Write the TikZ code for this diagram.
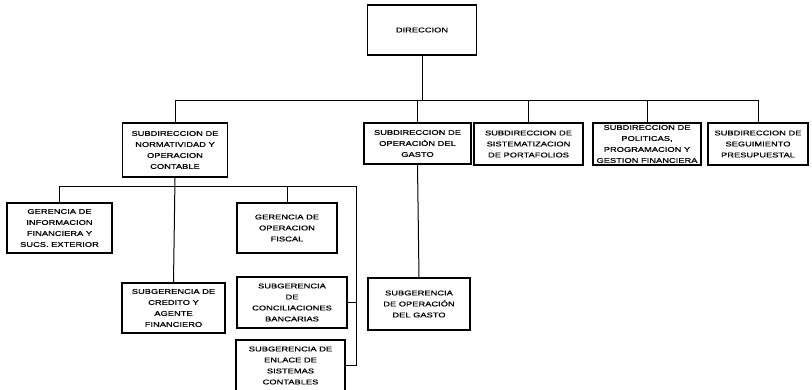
\documentclass[tikz,border=0pt]{standalone}
\usepackage{fontspec}
\newfontfamily\orgfont[FakeStretch=1.35,FakeBold=0.6]{Liberation Sans}
\begin{document}
\begin{tikzpicture}[x=1pt,y=-1pt,
  orgbox/.style={draw=black,line width=1.2pt,fill=white,inner sep=0pt,align=center,
    font=\orgfont\fontsize{6.9}{11}\selectfont},
  link/.style={draw=black,line width=1pt}]
\useasboundingbox (0,0) rectangle (812,389);
% boxes: centre (x,y), width, height
\node[orgbox,minimum width=109pt,minimum height=50pt] (dir) at (422,30) {DIRECCION};
\node[orgbox,minimum width=105pt,minimum height=54pt] (sa) at (175,150) {SUBDIRECCION DE\\NORMATIVIDAD Y\\OPERACION\\CONTABLE};
\node[orgbox,minimum width=107pt,minimum height=41pt] (sb) at (417.5,143.5) {SUBDIRECCION DE\\OPERACIÓN DEL\\GASTO};
\node[orgbox,minimum width=109pt,minimum height=42pt] (sc) at (528.5,144) {SUBDIRECCION DE\\SISTEMATIZACION\\DE PORTAFOLIOS};
\node[orgbox,minimum width=108pt,minimum height=42pt] (sd) at (647,144) {SUBDIRECCION DE\\POLITICAS,\\PROGRAMACION Y\\GESTION FINANCIERA};
\node[orgbox,minimum width=100pt,minimum height=42pt] (se) at (758,144) {SUBDIRECCION DE\\SEGUIMIENTO\\PRESUPUESTAL};
\node[orgbox,minimum width=105pt,minimum height=50pt] (ga) at (59.5,228) {GERENCIA DE\\INFORMACION\\FINANCIERA Y\\SUCS. EXTERIOR};
\node[orgbox,minimum width=100pt,minimum height=50pt] (gb) at (287,228) {GERENCIA DE\\OPERACION\\FISCAL};
\node[orgbox,minimum width=103pt,minimum height=50pt] (sga) at (173.5,308) {SUBGERENCIA DE\\CREDITO Y\\AGENTE\\FINANCIERO};
\node[orgbox,minimum width=110pt,minimum height=51pt] (sgb) at (292,302.5) {SUBGERENCIA\\DE\\CONCILIACIONES\\BANCARIAS};
\node[orgbox,minimum width=102pt,minimum height=52pt] (sgc) at (419,304) {SUBGERENCIA\\DE OPERACIÓN\\DEL GASTO};
\node[orgbox,minimum width=109pt,minimum height=51pt] (sgd) at (290.5,365.5) {SUBGERENCIA DE\\ENLACE DE\\SISTEMAS\\CONTABLES};
% connector coordinates
\coordinate (bar) at (0,100);
\coordinate (bar2) at (0,186);
\coordinate (rail) at (356,0);
% top level
\draw[link] (dir.south) -- (dir.south |- bar);
\draw[link] (sa.north |- bar) -- (se.north |- bar);
\foreach \n in {sa,sb,sc,sd,se} \draw[link] (\n.north) -- (\n.north |- bar);
% operation of expenses
\draw[link] (sb.south) -- (sgc.north);
% normatividad branch
\draw[link] (sa.south) -- (sga.north);
\draw[link] (ga.north |- bar2) -- (rail |- bar2);
\draw[link] (ga.north) -- (ga.north |- bar2);
\draw[link] (gb.north) -- (gb.north |- bar2);
\draw[link] (rail |- bar2) -- (rail |- sgd.east);
\draw[link] (sgb.east) -- (rail |- sgb.east);
\draw[link] (sgd.east) -- (rail |- sgd.east);
\end{tikzpicture}
\end{document}
